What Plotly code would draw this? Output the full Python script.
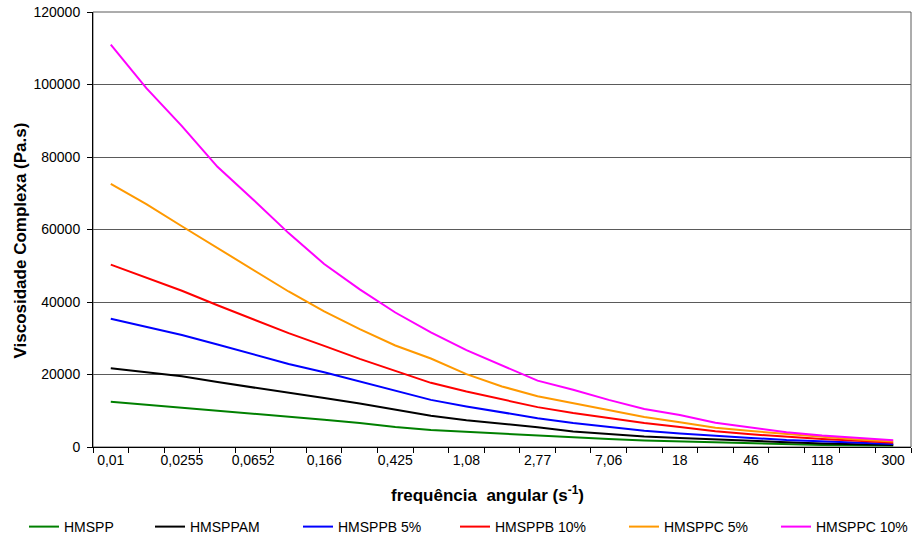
import plotly.graph_objects as go

categories = ["0,01", "0,016", "0,0255", "0,0407", "0,0652", "0,104", "0,166", "0,266",
              "0,425", "0,678", "1,08", "1,73", "2,77", "4,42", "7,06", "11,3", "18",
              "28,8", "46", "73,5", "118", "188", "300"]
tick_labels = ["0,01", "0,0255", "0,0652", "0,166", "0,425", "1,08", "2,77", "7,06",
               "18", "46", "118", "300"]

hmspp = [12500, 11700, 10900, 10000, 9200, 8300, 7500, 6600, 5500, 4700, 4200, 3700,
         3100, 2500, 2200, 1800, 1550, 1250, 900, 750, 550, 450, 380]
hmsppam = [21700, 20600, 19500, 17900, 16500, 14900, 13500, 12000, 10200, 8600, 7400, 6500,
           5450, 4300, 3500, 2900, 2500, 2050, 1650, 1300, 1000, 750, 550]
hmsppb5 = [35400, 33100, 30900, 28300, 25600, 22900, 20600, 18100, 15400, 13000, 11200, 9500,
           7950, 6600, 5500, 4500, 3700, 3000, 2500, 1900, 1550, 1200, 850]
hmsppb10 = [50300, 46700, 43100, 39100, 35200, 31400, 27900, 24300, 21000, 17700, 15300, 13200,
            11000, 9350, 7900, 6600, 5500, 4350, 3500, 2800, 2200, 1750, 1200]
hmsppc5 = [72600, 67000, 60900, 54900, 48900, 42900, 37400, 32500, 28000, 24400, 20100, 16700,
           14000, 12100, 10200, 8300, 6800, 5300, 4400, 3500, 2800, 2100, 1550]
hmsppc10 = [111000, 99000, 88500, 77300, 68300, 59000, 50500, 43500, 37100, 31600, 26700, 22400,
            18300, 15800, 13000, 10500, 8800, 6700, 5300, 4100, 3200, 2500, 1850]

series_names = ["HMSPP", "HMSPPAM", "HMSPPB 5%", "HMSPPB 10%", "HMSPPC 5%", "HMSPPC 10%"]
series_values = [hmspp, hmsppam, hmsppb5, hmsppb10, hmsppc5, hmsppc10]
colors = ["#008000", "#000000", "#0000FF", "#FF0000", "#FF9900", "#FF00FF"]

FONT = "Liberation Sans, Arial, sans-serif"

W, H = 914, 537
L, R, T, B = 93, 911, 12, 447
pw, ph = R - L, B - T

def px_to_paper_x(px):
    return (px - L) / pw

def px_to_paper_y(py):
    return (B - py) / ph

legend_text_starts = [64, 190, 338, 495, 664, 816]
legend_ids = ["legend", "legend2", "legend3", "legend4", "legend5", "legend6"]

fig = go.Figure()
for name, vals, col, lid in zip(series_names, series_values, colors, legend_ids):
    fig.add_trace(go.Scatter(x=categories, y=vals, mode="lines", name=name,
                             line=dict(color=col, width=2), legend=lid))

shown = set(tick_labels)
ticktext = [c if c in shown else " " for c in categories]

legend_layouts = {}
for lid, ts in zip(legend_ids, legend_text_starts):
    legend_layouts[lid] = dict(
        x=px_to_paper_x(ts - 40), xanchor="left",
        y=px_to_paper_y(527), yanchor="middle",
        orientation="h", bgcolor="rgba(0,0,0,0)", borderwidth=0,
        font=dict(family=FONT, size=14, color="#000000"),
    )

fig.update_layout(
    width=W, height=H,
    margin=dict(l=L, r=W - R, t=T, b=H - B, autoexpand=False),
    paper_bgcolor="white", plot_bgcolor="white",
    font=dict(family=FONT, size=14, color="#000000"),
    xaxis=dict(
        type="category", categoryorder="array", categoryarray=categories,
        range=[-0.5, len(categories) - 0.5],
        tickmode="array", tickvals=categories, ticktext=ticktext, tickangle=0,
        tickson="boundaries", ticks="outside", ticklen=5, tickcolor="#000000",
        showgrid=False, showline=True, linecolor="#000000", linewidth=1,
        tickfont=dict(family=FONT, size=14, color="#000000"), zeroline=False,
        ticklabeloverflow="allow",
    ),
    yaxis=dict(
        range=[0, 120000], dtick=20000, tick0=0, tickformat="d",
        ticks="outside", ticklen=5, tickcolor="#000000",
        ticklabelstandoff=4, ticklabeloverflow="allow",
        showgrid=True, gridcolor="#5a5a5a", gridwidth=1,
        showline=True, linecolor="#000000", linewidth=1, zeroline=False,
        tickfont=dict(family=FONT, size=14, color="#000000"),
    ),
    showlegend=True,
    **legend_layouts,
)

# plot-area border (right edge)
fig.add_shape(type="rect", xref="paper", yref="paper", x0=0, x1=1, y0=0, y1=1,
              line=dict(color="#5a5a5a", width=1), layer="below")

fig.add_annotation(text="<b>Viscosidade Complexa (Pa.s)</b>", xref="paper", yref="paper",
                   x=px_to_paper_x(19.5), y=px_to_paper_y(241), textangle=-90,
                   showarrow=False, xanchor="center", yanchor="middle",
                   font=dict(family=FONT, size=17, color="#000000"))
fig.add_annotation(text="<b>frequência\u00a0 angular (s<sup>-1</sup>)</b>", xref="paper", yref="paper",
                   x=px_to_paper_x(487), y=px_to_paper_y(494),
                   showarrow=False, xanchor="center", yanchor="middle",
                   font=dict(family=FONT, size=17, color="#000000"))

fig.write_html("out.html", config={"displayModeBar": False},
               post_script="document.body.style.margin='0';document.body.style.overflow='hidden';")
